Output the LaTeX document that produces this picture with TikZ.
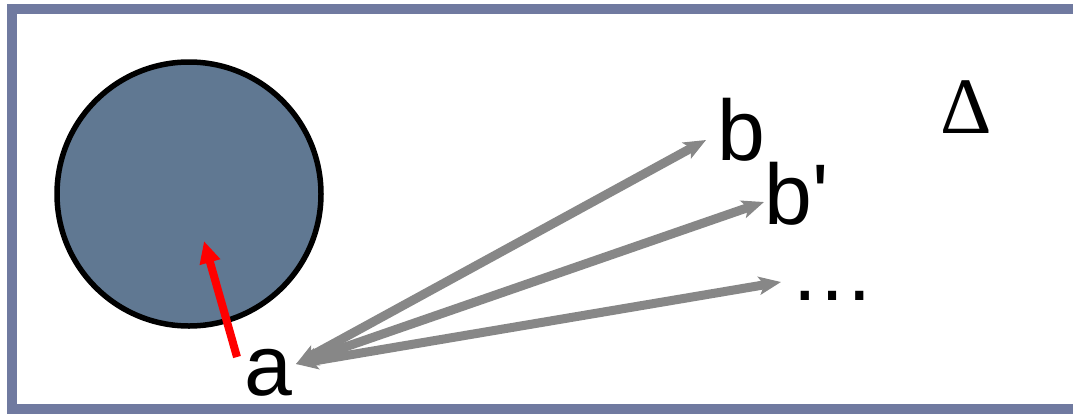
\documentclass[tikz,border=0pt]{standalone}
\usepackage{fontspec}
\setmainfont{Liberation Sans}
\newfontfamily\symfont{Liberation Serif}
\usepackage{tikz}
\usetikzlibrary{arrows.meta, positioning, calc}
\definecolor{myframe}{RGB}{112,122,160}
\definecolor{mydisk}{RGB}{96,120,146}
\definecolor{myred}{RGB}{255,0,0}
\definecolor{mygray}{RGB}{135,135,135}
\tikzset{
  frame/.style={draw=myframe, line width=10pt},
  disk/.style={circle, draw=black, fill=mydisk, line width=5.5pt,
    minimum size=264pt, inner sep=0pt},
  lbl/.style={anchor=base west, inner sep=0pt, font=\fontsize{86}{90}\selectfont},
  redarrow/.style={-{Triangle[length=22pt,width=20pt]}, line width=8pt, color=myred},
  grayarrow/.style={{Stealth[length=22pt,width=18pt,inset=5pt]}-{Stealth[length=22pt,width=18pt,inset=5pt]},
    line width=9pt, color=mygray}
}
\begin{document}
\begin{tikzpicture}[x=1pt, y=-1pt]
  \useasboundingbox (0,0) rectangle (1073,413);
  % Frame
  \begin{scope}
    \clip (0,0) rectangle (1073,413);
    \draw[frame] (12,9) rectangle (1085,409);
  \end{scope}

  % Disk
  \node[disk] (disk) at (189,194) {};

  % Labels
  \node[lbl] (la) at (244,395) {a};
  \node[lbl] (lb) at (717,160) {b};
  \node[lbl] (lbp) at (764,224) {b\textquotesingle};
  \node[lbl] (ldots) at (789,300) {\dots};
  \node[lbl, font=\symfont\fontsize{80}{82}\selectfont] (ldelta) at (940,133) {Δ};

  % Arrow end points
  \coordinate (pa) at (296,364);
  \coordinate (pb) at (706,140);
  \coordinate (pbp) at (764,202);
  \coordinate (pdots) at (781,282);
  \coordinate (pin) at (204,241);
  \coordinate (pout) at (237,357);

  % Gray arrows from a
  \draw[grayarrow] (pa) -- (pb);
  \draw[grayarrow] (pa) -- (pbp);
  \draw[grayarrow] (pa) -- (pdots);

  % Red arrow into disk
  \draw[redarrow] (pout) -- (pin);
\end{tikzpicture}
\end{document}
